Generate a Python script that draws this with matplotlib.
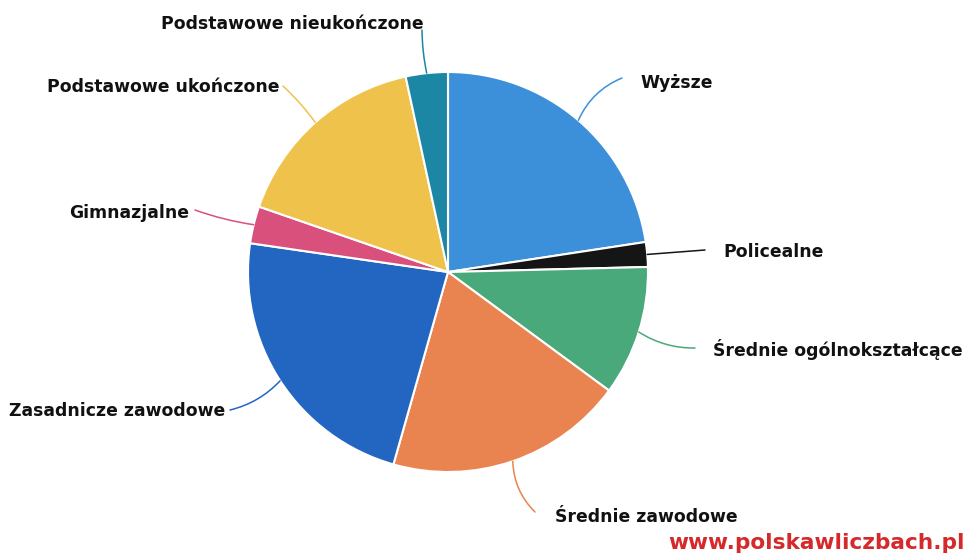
import numpy as np
import matplotlib
matplotlib.use("Agg")
import matplotlib.pyplot as plt

plt.rcParams["font.family"] = "DejaVu Sans"

# shares of each education level (%), clockwise from 12 o'clock
labels = ["Wyższe", "Policealne", "Średnie ogólnokształcące", "Średnie zawodowe",
          "Zasadnicze zawodowe", "Gimnazjalne", "Podstawowe ukończone",
          "Podstawowe nieukończone"]
values = [22.6, 2.0, 10.5, 19.3, 22.9, 3.0, 16.3, 3.4]
colors = ["#3b90d9", "#151515", "#4aa97b", "#e9834f", "#2266c2", "#d9507c",
          "#efc24c", "#1b87a4"]

W, H = 972, 555
cx, cy, R = 448, 272, 200

# label layout in pixel coords (y down): line end, text anchor, alignment, curve
layout = [
    ((622, 78), (640, 83), "left", 0.2),
    ((705, 250), (723, 252), "left", 0.0),
    ((695, 348), (713, 350), "left", -0.15),
    ((535, 512), (555, 517), "left", -0.2),
    ((230, 410), (225, 411), "right", 0.15),
    ((195, 210), (189, 213), "right", 0.05),
    ((283, 86), (279, 87), "right", -0.05),
    ((422, 30), (424, 24), "right", 0.05),
]


def py(y):
    return H - y


fig = plt.figure(figsize=(W / 100, H / 100), dpi=100)
ax = fig.add_axes([0, 0, 1, 1])

wedges, _ = ax.pie(values, colors=colors, startangle=90, counterclock=False,
                   center=(cx, py(cy)), radius=R,
                   wedgeprops=dict(edgecolor="white", linewidth=1.5))
ax.set_xlim(0, W)
ax.set_ylim(0, H)
ax.set_aspect("equal")
ax.axis("off")

for w, lab, col, (lend, tpos, ha, rad) in zip(wedges, labels, colors, layout):
    mid = np.deg2rad((w.theta1 + w.theta2) / 2)
    ex = cx + R * np.cos(mid)
    ey = py(cy) + R * np.sin(mid)
    ax.annotate("", xy=(ex, ey), xytext=(lend[0], py(lend[1])),
                arrowprops=dict(arrowstyle="-", color=col, lw=1.1,
                                shrinkA=0, shrinkB=0,
                                connectionstyle=f"arc3,rad={rad}"))
    ax.text(tpos[0], py(tpos[1]), lab, ha=ha, va="center", fontsize=12.4,
            fontweight="bold", color="#111111")

ax.text(965, py(543), "www.polskawliczbach.pl", ha="right", va="center",
        fontsize=15.6, fontweight="bold", color="#d42a2c")

fig.savefig("out.png", dpi=100)
